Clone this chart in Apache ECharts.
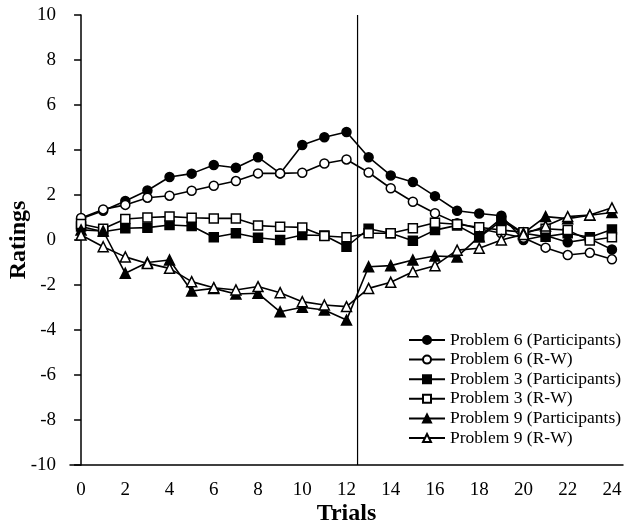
<!DOCTYPE html>
<html>
<head>
<meta charset="utf-8">
<script src="https://cdn.jsdelivr.net/npm/echarts@6/dist/echarts.min.js"></script>
<style>html,body{margin:0;padding:0;background:#fff}#c{width:633px;height:524px}</style>
</head>
<body>
<div id="c"></div>
<script>
var trials = ['0','1','2','3','4','5','6','7','8','9','10','11','12','13','14','15','16','17','18','19','20','21','22','23','24'];
var p6Participants = [0.95, 1.3, 1.73, 2.2, 2.8, 2.95, 3.33, 3.21, 3.68, 2.96, 4.22, 4.57, 4.8, 3.68, 2.87, 2.58, 1.95, 1.3, 1.18, 1.08, 0.0, 0.2, -0.1, 0.05, -0.42];
var p6RW = [0.98, 1.36, 1.56, 1.88, 1.97, 2.19, 2.41, 2.62, 2.96, 2.96, 2.99, 3.4, 3.58, 3.0, 2.3, 1.7, 1.19, 0.75, 0.5, 0.3, 0.1, -0.34, -0.67, -0.57, -0.86];
var p3Participants = [0.6, 0.37, 0.52, 0.55, 0.67, 0.62, 0.12, 0.3, 0.1, 0.0, 0.22, 0.2, -0.3, 0.5, 0.3, -0.03, 0.44, 0.65, 0.12, 0.85, 0.3, 0.15, 0.3, 0.12, 0.47];
var p3RW = [0.71, 0.5, 0.93, 1.0, 1.04, 0.99, 0.96, 0.96, 0.64, 0.59, 0.56, 0.18, 0.12, 0.3, 0.3, 0.52, 0.77, 0.7, 0.57, 0.44, 0.35, 0.5, 0.44, -0.02, 0.12];
var p9Participants = [0.45, 0.4, -1.48, -1.0, -0.89, -2.27, -2.15, -2.4, -2.37, -3.19, -2.99, -3.11, -3.56, -1.19, -1.14, -0.89, -0.71, -0.75, 0.15, 0.96, 0.3, 1.04, 0.95, 1.1, 1.22];
var p9RW = [0.22, -0.3, -0.75, -1.04, -1.26, -1.85, -2.12, -2.22, -2.07, -2.34, -2.74, -2.89, -2.96, -2.15, -1.88, -1.41, -1.14, -0.45, -0.37, 0.0, 0.25, 0.62, 1.04, 1.11, 1.43];
var dividerTrial = 12.5;
var yTicks = [-10, 10, 2];

var seriesNames = ['Problem 6 (Participants)','Problem 6 (R-W)','Problem 3 (Participants)','Problem 3 (R-W)','Problem 9 (Participants)','Problem 9 (R-W)'];
var seriesData = [p6Participants, p6RW, p3Participants, p3RW, p9Participants, p9RW];
var symbols = ['circle','circle','rect','rect','triangle','triangle'];
var filled = [true,false,true,false,true,false];
var sizes = [9,9,9,9,10,10];

var font = '"Liberation Serif", "Times New Roman", serif';
var series = seriesNames.map(function(n,i){
  return {
    name: n, type: 'line', xAxisIndex: 0, yAxisIndex: 0,
    data: seriesData[i],
    symbol: symbols[i], symbolSize: sizes[i], showAllSymbol: true,
    lineStyle: {color: '#000', width: 1.6},
    itemStyle: {color: filled[i] ? '#000' : '#fff', borderColor: '#000', borderWidth: 1.5},
    emphasis: {disabled: true},
    animation: false
  };
});
series.push({
  type: 'line', xAxisIndex: 1, yAxisIndex: 0,
  data: [[dividerTrial, yTicks[0]], [dividerTrial, yTicks[1]]],
  symbol: 'none', lineStyle: {color: '#000', width: 1.2}, animation: false, silent: true
});

var chart = echarts.init(document.getElementById('c'), null, {renderer: 'canvas'});
chart.setOption({
  backgroundColor: '#fff',
  animation: false,
  grid: {left: 70, right: 10, top: 15, bottom: 59, containLabel: false, outerBoundsMode: 'none'},
  legend: {
    data: seriesNames, orient: 'vertical', left: 403, top: 326,
    itemWidth: 36, itemHeight: 10, itemGap: 1.6,
    textStyle: {fontFamily: font, fontSize: 17.5, color: '#000', lineHeight: 18}
  },
  xAxis: [{
    type: 'category', data: trials, boundaryGap: true,
    name: 'Trials', nameLocation: 'middle', nameGap: 37, nameMoveOverlap: false,
    nameTextStyle: {fontFamily: font, fontSize: 24, fontWeight: 'bold', color: '#000'},
    axisLine: {onZero: false, lineStyle: {color: '#000', width: 1.5}},
    axisTick: {interval: 0, length: 7, inside: false, lineStyle: {color: '#000', width: 1.5}},
    axisLabel: {interval: 1, fontFamily: font, fontSize: 19, color: '#000', margin: 16},
    splitLine: {show: false}
  }, {
    type: 'value', min: -0.5, max: 24.5, show: false
  }],
  yAxis: {
    type: 'value', min: yTicks[0], max: yTicks[1], interval: yTicks[2],
    name: 'Ratings', nameLocation: 'middle', nameGap: 39, nameRotate: 90, nameMoveOverlap: false,
    nameTextStyle: {fontFamily: font, fontSize: 24, fontWeight: 'bold', color: '#000'},
    axisLine: {show: true, lineStyle: {color: '#000', width: 1.5}},
    axisTick: {show: true, length: 7, lineStyle: {color: '#000', width: 1.5}},
    axisLabel: {fontFamily: font, fontSize: 19, color: '#000', margin: 14},
    splitLine: {show: false}
  },
  series: series
});
</script>
</body>
</html>
